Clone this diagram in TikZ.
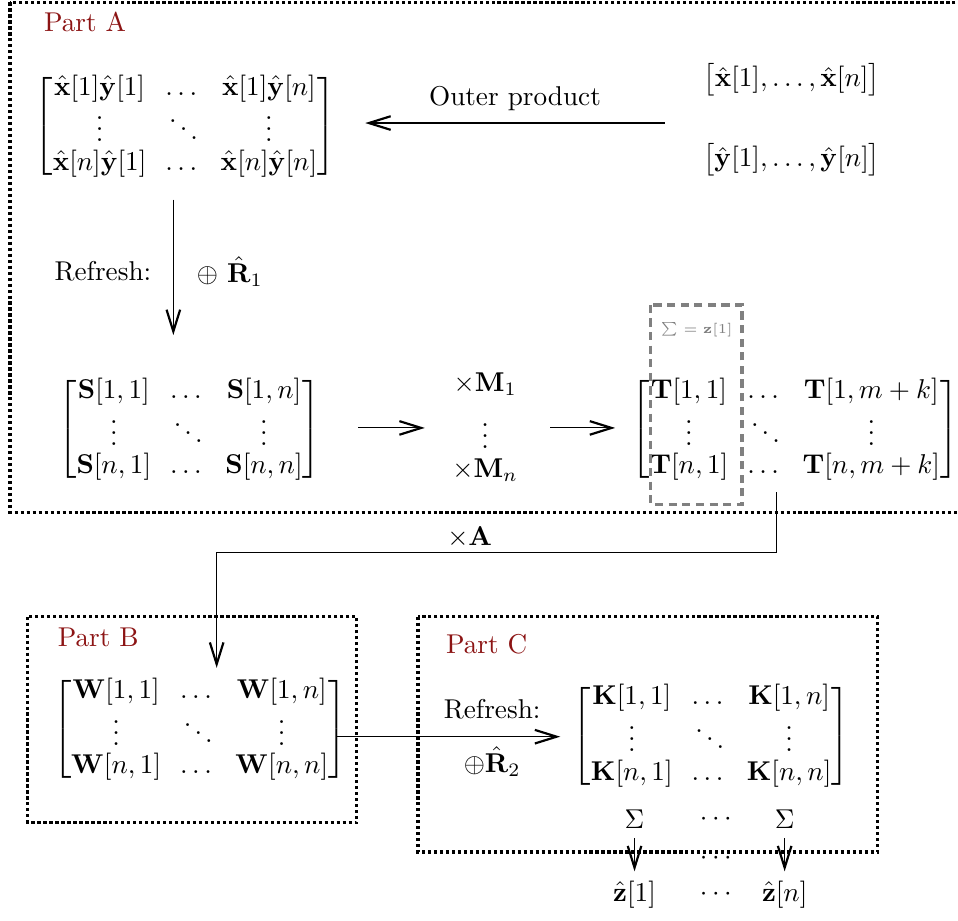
\documentclass[tikz,border=0pt]{standalone}
\usepackage{amsmath}
\usepackage{amssymb}
\usepackage{tikz}
\usetikzlibrary{arrows.meta,positioning}
\definecolor{partred}{RGB}{140,20,20}
\setlength{\arraycolsep}{3.5pt}

\begin{document}
\begin{tikzpicture}[
  >={Straight Barb[length=8pt,width=5pt,line width=0.8pt]},
  part/.style={very thick, densely dotted},
  partlabel/.style={text=partred},
  sumbox/.style={very thick, gray, dash pattern=on 3pt off 2pt},
]
\useasboundingbox (0,0) rectangle (12.38,-11.89);

% Part A
\draw[part] (0.13,-0.03) rectangle (12.6,-6.62);
\node[partlabel] (pa) at (1.10,-0.28) {Part A};

\node (xy) at (2.39,-1.63) {$\begin{bmatrix}
  \hat{\mathbf{x}}[1]\hat{\mathbf{y}}[1] & \dots & \hat{\mathbf{x}}[1]\hat{\mathbf{y}}[n]\\[-1.5pt]
  \vdots & \ddots & \vdots\\[-1.5pt]
  \hat{\mathbf{x}}[n]\hat{\mathbf{y}}[1] & \dots & \hat{\mathbf{x}}[n]\hat{\mathbf{y}}[n]
\end{bmatrix}$};
\node (xv) at (10.23,-1.03) {$\big[\hat{\mathbf{x}}[1],\dots,\hat{\mathbf{x}}[n]\big]$};
\node (yv) at (10.23,-2.07) {$\big[\hat{\mathbf{y}}[1],\dots,\hat{\mathbf{y}}[n]\big]$};
\coordinate (op) at (8.59,-1.59);
\coordinate (opend) at (4.72,-1.59);
\draw[->] (op) -- (opend) node[midway, above=1pt] {Outer product};

\coordinate (ra) at (2.24,-2.58);
\coordinate (rb) at (2.24,-4.33);
\draw[->] (ra) -- (rb);
\node (rlab) at (1.33,-3.51) {Refresh:};
\node (r1) at (2.97,-3.51) {$\oplus\ \hat{\mathbf{R}}_1$};

\node (s) at (2.45,-5.55) {$\begin{bmatrix}
  \mathbf{S}[1,1] & \dots & \mathbf{S}[1,n]\\[-1.5pt]
  \vdots & \ddots & \vdots\\[-1.5pt]
  \mathbf{S}[n,1] & \dots & \mathbf{S}[n,n]
\end{bmatrix}$};
\node (m1) at (6.27,-4.97) {$\times\mathbf{M}_1$};
\node (md) at (6.27,-5.53) {$\vdots$};
\node (mn) at (6.27,-6.07) {$\times\mathbf{M}_n$};
\coordinate (sa) at (4.63,-5.53);
\coordinate (sb) at (5.49,-5.53);
\coordinate (ta) at (7.11,-5.53);
\coordinate (tb) at (7.95,-5.53);
\draw[->] (sa) -- (sb);
\draw[->] (ta) -- (tb);

\node (t) at (10.27,-5.55) {$\begin{bmatrix}
  \mathbf{T}[1,1] & \dots & \mathbf{T}[1,m+k]\\[-1.5pt]
  \vdots & \ddots & \vdots\\[-1.5pt]
  \mathbf{T}[n,1] & \dots & \mathbf{T}[n,m+k]
\end{bmatrix}$};
\draw[sumbox] (8.41,-3.94) rectangle (9.59,-6.52);
\node[gray, font=\tiny] (tsum) at (9.01,-4.26) {$\sum=\mathbf{z}[1]$};

% x A
\coordinate (aa) at (10.04,-6.36);
\coordinate (ab) at (2.80,-8.63);
\draw[->] (aa) |- (6,-7.14) -| (ab);
\node (alab) at (6.07,-6.94) {$\times\mathbf{A}$};

% Part B
\draw[part] (0.36,-7.97) rectangle (4.61,-10.63);
\node[partlabel] (pb) at (1.27,-8.23) {Part B};
\node (w) at (2.58,-9.43) {$\begin{bmatrix}
  \mathbf{W}[1,1] & \dots & \mathbf{W}[1,n]\\[-1.5pt]
  \vdots & \ddots & \vdots\\[-1.5pt]
  \mathbf{W}[n,1] & \dots & \mathbf{W}[n,n]
\end{bmatrix}$};

% Part C
\draw[part] (5.40,-7.97) rectangle (11.34,-11.01);
\node[partlabel] (pc) at (6.29,-8.33) {Part C};
\coordinate (wa) at (4.35,-9.52);
\coordinate (wb) at (7.24,-9.52);
\draw[->] (wa) -- (wb);
\node (r2lab) at (6.36,-9.17) {Refresh:};
\node (r2) at (6.36,-9.84) {$\oplus\hat{\mathbf{R}}_2$};
\node (k) at (9.19,-9.51) {$\begin{bmatrix}
  \mathbf{K}[1,1] & \dots & \mathbf{K}[1,n]\\[-1.5pt]
  \vdots & \ddots & \vdots\\[-1.5pt]
  \mathbf{K}[n,1] & \dots & \mathbf{K}[n,n]
\end{bmatrix}$};

\node (sum1) at (8.20,-10.59) {$\Sigma$};
\node (sumd) at (9.28,-10.59) {$\cdots$};
\node (sumn) at (10.14,-10.59) {$\Sigma$};
\node (zd1) at (9.28,-11.09) {$\cdots$};
\node (z1) at (8.20,-11.56) {$\hat{\mathbf{z}}[1]$};
\node (zd) at (9.28,-11.56) {$\cdots$};
\node (zn) at (10.14,-11.56) {$\hat{\mathbf{z}}[n]$};
\draw[->] (sum1) -- (z1);
\draw[->] (sumn) -- (zn);

\end{tikzpicture}
\end{document}
